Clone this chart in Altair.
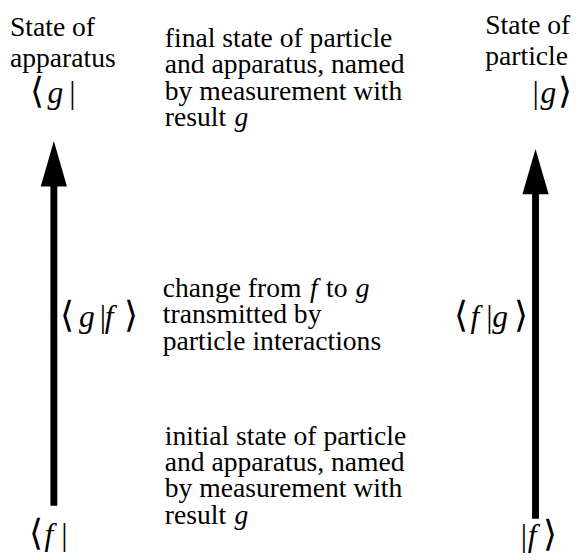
import altair as alt
import pandas as pd

# ---------------- content ----------------
left_header = ["State of", "apparatus"]
right_header = ["State of", "particle"]

final_lines = [
    [("final state of particle", False)],
    [("and apparatus, named", False)],
    [("by measurement with", False)],
    [("result ", False), ("g", True)],
]
change_lines = [
    [("change from ", False), ("f", True), (" to ", False), ("g", True)],
    [("transmitted by", False)],
    [("particle interactions", False)],
]
initial_lines = [
    [("initial state of particle", False)],
    [("and apparatus, named", False)],
    [("by measurement with", False)],
    [("result ", False), ("g", True)],
]

# bra-ket labels: glyphs and italic flags
bra_final = [("⟨", False), ("g", True), ("|", False)]
ket_final = [("|", False), ("g", True), ("⟩", False)]
bra_change = [("⟨", False), ("g", True), ("|", False), ("f", True), ("⟩", False)]
ket_change = [("⟨", False), ("f", True), ("|", False), ("g", True), ("⟩", False)]
bra_initial = [("⟨", False), ("f", True), ("|", False)]
ket_initial = [("|", False), ("f", True), ("⟩", False)]

# ---------------- layout (pixel positions in the 580x560 page) ----------------
FONT = "'Liberation Serif', 'Times New Roman', Times, serif"
BODY = 28
LETTER = 32
BRACKET = 37

header_layout = [(left_header, 10, [32, 64]), (right_header, 492, [30, 62])]
block_layout = [(final_lines, 167, [44, 70.5, 97, 123.5]),
                (change_lines, 165, [297, 324, 351]),
                (initial_lines, 167, [447, 474, 500.5, 527])]
braket_layout = [
    (bra_final, [30, 48, 70], 100),
    (ket_final, [540, 548, 566], 100),
    (bra_change, [61, 80, 101, 106, 126], 328),
    (ket_change, [460, 477, 493, 499, 521], 328),
    (bra_initial, [29, 45, 62], 549),
    (ket_initial, [528, 535, 551], 550),
]

# arrows: shaft x, tip y, head base y, shaft bottom y
arrow_x = [54.5, 543]
arrow_tip = [139, 147]
arrow_base = [185, 193]
arrow_bottom = [509, 522]

ROMAN = {' ': 250, ',': 250, 'a': 444, 'b': 500, 'c': 444, 'd': 500,
         'e': 444, 'f': 333, 'g': 500, 'h': 500, 'i': 278, 'l': 278, 'm': 778,
         'n': 500, 'o': 500, 'p': 500, 'r': 333, 's': 389, 't': 278, 'u': 500,
         'w': 722, 'y': 500, 'S': 556}
ITALIC = {'f': 278, 'g': 500}


def width(s, italic, size):
    tab = ITALIC if italic else ROMAN
    return sum(tab.get(c, 500) for c in s) / 1000.0 * size


rows = []
for lines, x0, yy in header_layout:
    for line, y in zip(lines, yy):
        rows.append(dict(text=line, x=x0, y=y, italic=False, size=BODY))
for lines, x0, yy in block_layout:
    for segs, y in zip(lines, yy):
        x = x0
        for s, it in segs:
            lead = len(s) - len(s.lstrip(" "))
            word = s.strip(" ")
            rows.append(dict(text=word, x=x + width(" " * lead, False, BODY) + (1.5 if it else 0),
                             y=y, italic=it, size=BODY))
            x += width(s, it, BODY) + (3 if it else 0)
for glyphs, xx, y in braket_layout:
    for (g, it), x in zip(glyphs, xx):
        sz = BRACKET if g in "⟨⟩" else LETTER
        rows.append(dict(text=g, x=x, y=y, italic=it, size=sz))

texts = pd.DataFrame(rows)

shafts = pd.DataFrame(dict(x=arrow_x, y=[b - 2 for b in arrow_base], y2=arrow_bottom))
heads = pd.DataFrame(dict(x=arrow_x, y=[(t + b) / 2 for t, b in zip(arrow_tip, arrow_base)]))

W, H = 572, 552
xs = alt.Scale(domain=[8, 580], range=[0, W], nice=False, zero=False)
ys = alt.Scale(domain=[8, 560], range=[0, H], nice=False, zero=False)

X = lambda f="x": alt.X(f"{f}:Q", scale=xs, axis=None)
Y = lambda f="y": alt.Y(f"{f}:Q", scale=ys, axis=None)

upright = alt.Chart(texts).transform_filter("!datum.italic").mark_text(
    align="left", baseline="alphabetic", font=FONT, color="black"
).encode(x=X(), y=Y(), text="text:N", size=alt.Size("size:Q", scale=None, legend=None))

italic = alt.Chart(texts).transform_filter("datum.italic").mark_text(
    align="left", baseline="alphabetic", font=FONT, fontStyle="italic", color="black"
).encode(x=X(), y=Y(), text="text:N", size=alt.Size("size:Q", scale=None, legend=None))

shaft = alt.Chart(shafts).mark_rule(color="black", strokeWidth=7).encode(
    x=X(), y=Y(), y2="y2:Q"
)

head = alt.Chart(heads).mark_point(
    filled=True, color="black", opacity=1, strokeWidth=0,
    shape="M0,-1L0.578,1L-0.578,1Z", size=2116
).encode(x=X(), y=Y())

chart = alt.layer(shaft, head, upright, italic).properties(
    width=W, height=H, padding=0, autosize=alt.AutoSizeParams(type="none"),
    background="white"
).configure_view(stroke=None)

chart.save("out.html", embed_options={"renderer": "svg", "actions": False})
